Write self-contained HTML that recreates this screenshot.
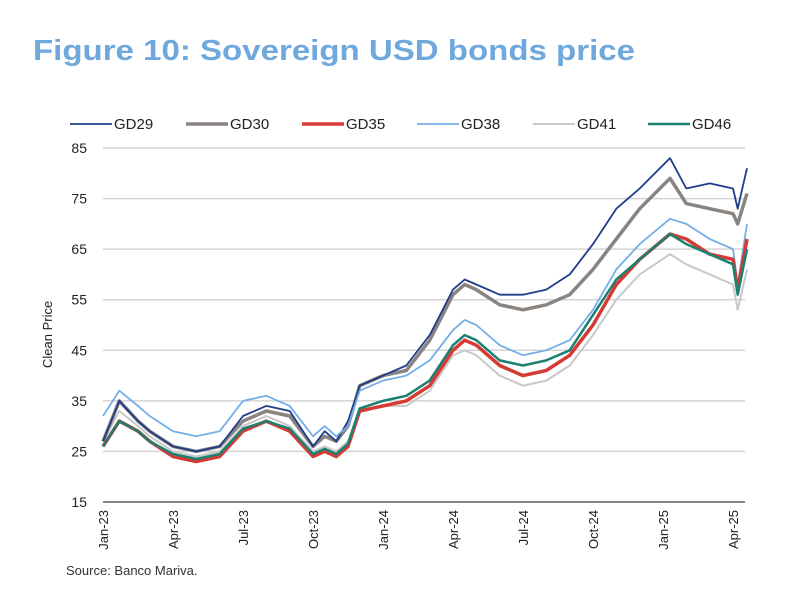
<!DOCTYPE html>
<html><head><meta charset="utf-8"><style>
html,body{margin:0;padding:0;background:#fff;}
svg{display:block;font-family:"Liberation Sans",Arial,sans-serif;}
</style></head><body>
<svg id="chart" width="800" height="604" viewBox="0 0 800 604">
<text x="33" y="60" font-size="29" font-weight="bold" fill="#6fa8dc" textLength="602" lengthAdjust="spacingAndGlyphs">Figure 10: Sovereign USD bonds price</text>
<g id="grid"></g><g id="series"></g><g id="axes"></g><g id="legend"></g>
<text x="52" y="368" font-size="13" fill="#222" transform="rotate(-90 52 368)">Clean Price</text>
<text x="66" y="575" font-size="13" fill="#333">Source: Banco Mariva.</text>
</svg>
<script>
const months = [0,0.7,1.5,2,3,4,5,6,7,8,9,9.5,10,10.5,11,12,13,14,15,15.5,16,17,18,19,20,21,22,23,24.3,25,26,27,27.2,27.6];
const gd29 = [27,35,31,29,26,25,26,32,34,33,26,29,27,31,38,40,42,48,57,59,58,56,56,57,60,66,73,77,83,77,78,77,73,81];
const gd30 = [27,35,31,29,26,25,26,31,33,32,26,28,27,30,38,40,41,47,56,58,57,54,53,54,56,61,67,73,79,74,73,72,70,76];
const gd35 = [26,31,29,27,24,23,24,29,31,29,24,25,24,26,33,34,35,38,45,47,46,42,40,41,44,50,58,63,68,67,64,63,57,67];
const gd38 = [32,37,34,32,29,28,29,35,36,34,28,30,28,30,37,39,40,43,49,51,50,46,44,45,47,53,61,66,71,70,67,65,58,70];
const gd41 = [27,33,30,28,25,24,25,30,32,30,25,26,25,27,33,34,34,37,44,45,44,40,38,39,42,48,55,60,64,62,60,58,53,61];
const gd46 = [26,31,29,27,24.5,23.5,24.5,29.5,31,29.5,24.5,25.5,24.5,26.5,33.5,35,36,39,46,48,47,43,42,43,45,52,59,63,68,66,64,62,56,65];
const yTicks = [15,25,35,45,55,65,75,85];
const xTickLabels = ["Jan-23","Apr-23","Jul-23","Oct-23","Jan-24","Apr-24","Jul-24","Oct-24","Jan-25","Apr-25"];
const xTickMonths = [0,3,6,9,12,15,18,21,24,27];
const seriesNames = ["GD29","GD30","GD35","GD38","GD41","GD46"];

const NS="http://www.w3.org/2000/svg";
const X0=103, XPM=70/3, Y15=502, Y85=148;
const xs=m=>X0+m*XPM;
const ys=v=>Y15-(v-15)*(Y15-Y85)/70;
function mk(tag,attrs,parent){const e=document.createElementNS(NS,tag);for(const k in attrs)e.setAttribute(k,attrs[k]);parent.appendChild(e);return e;}
const grid=document.getElementById('grid'),axes=document.getElementById('axes'),ser=document.getElementById('series'),leg=document.getElementById('legend');
yTicks.forEach(v=>{
  if(v!==15){const l=mk('line',{x1:103,x2:745,y1:ys(v),y2:ys(v),stroke:'#d4d4d4','stroke-width':1.5},grid);
  
  }
  const t=mk('text',{x:87,y:ys(v)+5,'font-size':14,'text-anchor':'end',fill:'#222'},axes);
  t.textContent=v;
  
  
});
const ax=mk('line',{x1:103,x2:745,y1:Y15,y2:Y15,stroke:'#888','stroke-width':2},axes);


xTickLabels.forEach((lab,i)=>{
  const x=xs(xTickMonths[i])+5,y=510;
  const t=mk('text',{x:x,y:y,'font-size':13,'text-anchor':'end',fill:'#222',transform:`rotate(-90 ${x} ${y})`},axes);
  t.textContent=lab;
  
  
});
const data=[gd29,gd30,gd35,gd38,gd41,gd46];
const colors=['#1f3d8a','#8a8480','#d63a35','#74aee6','#c8c8c8','#1a8070'];
const widths=[1.8,3.5,3.5,1.8,2,2.5];
const order=[4,1,0,3,2,5];
order.forEach(i=>{
  const d=data[i].map((v,j)=>(j?'L':'M')+xs(months[j]).toFixed(1)+' '+ys(v).toFixed(1)).join(' ');
  const p=mk('path',{d:d,fill:'none',stroke:colors[i],'stroke-width':widths[i],'stroke-linejoin':'round'},ser);
  
  
});
const lx=[70,186,302,417,533,648];
seriesNames.forEach((n,i)=>{
  const g=mk('g',{},leg);
  
  
  mk('line',{x1:lx[i],x2:lx[i]+42,y1:124,y2:124,stroke:colors[i],'stroke-width':widths[i]},g);
  const t=mk('text',{x:lx[i]+44,y:129,'font-size':15,fill:'#222'},g);
  t.textContent=n;
});
</script>
</body></html>
